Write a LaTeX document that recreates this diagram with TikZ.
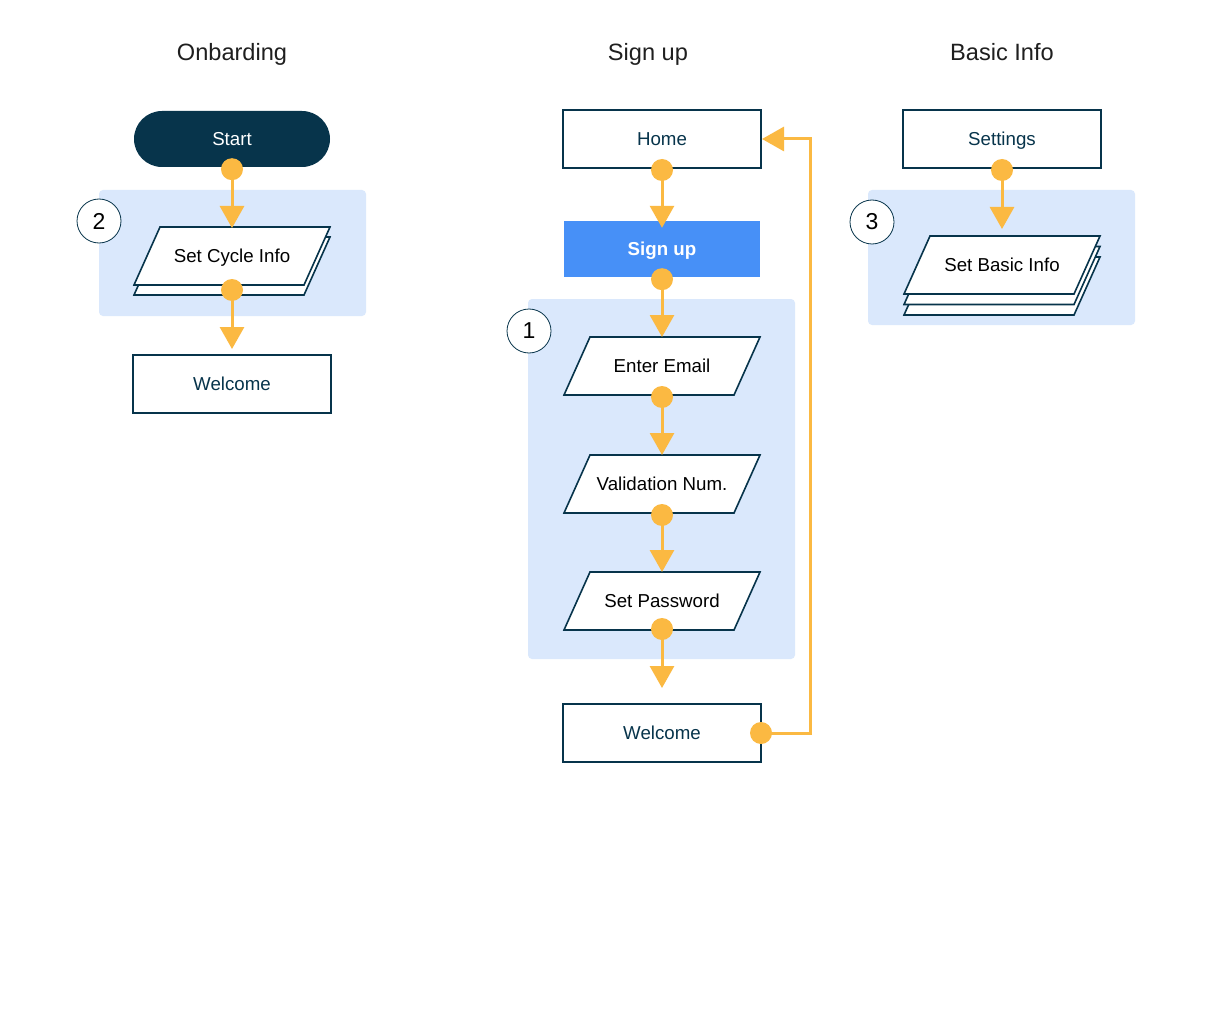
\documentclass[tikz,border=0pt]{standalone}
\usepackage{fontspec}
\setmainfont{Liberation Sans}
\usetikzlibrary{arrows.meta}
\definecolor{navy}{HTML}{07344B}
\definecolor{flowor}{HTML}{FBB942}
\definecolor{panelblue}{HTML}{DAE8FC}
\definecolor{signblue}{HTML}{4790F7}
\pgfdeclarelayer{bglayer}
\pgfdeclarelayer{midlayer}
\pgfsetlayers{bglayer,midlayer,main}
\newcommand\pshape[2]{%
  \draw[navy, line width=1.6pt, fill=white, line join=miter]
    ([shift={(-72,-29+#2)}]#1.center) -- ([shift={(98,-29+#2)}]#1.center) --
    ([shift={(72,29+#2)}]#1.center) -- ([shift={(-98,29+#2)}]#1.center) -- cycle;}
\begin{document}
\begin{tikzpicture}[x=1pt,y=-1pt,
  capc/.style={text height=13.4pt, text depth=0pt},
  title/.style={font=\fontsize{23.6}{27}\selectfont, text=black!88, text height=16.9pt, text depth=0pt},
  rectbox/.style={draw=navy, line width=1.6pt, fill=white, minimum width=198pt, minimum height=58pt,
    inner sep=0pt, outer sep=0pt, text=navy, font=\fontsize{18.7}{22}\selectfont, capc},
  pbox/.style={minimum width=196pt, minimum height=58pt, inner sep=0pt, outer sep=0pt,
    text=black, font=\fontsize{18.7}{22}\selectfont, capc},
  panel/.style={fill=panelblue, rounded corners=4pt},
  num/.style={circle, draw=navy, line width=0.8pt, fill=white, minimum size=44pt, inner sep=0pt,
    font=\fontsize{23}{26}\selectfont, text=black},
  conn/.style={draw=flowor, line width=3pt, -{Triangle[width=24pt,length=22pt]}},
  dotc/.style={fill=flowor}
]
\useasboundingbox (0,0) rectangle (1228,1024);
\begin{pgfonlayer}{bglayer}
\fill[white] (0,0) rectangle (1228,1024);
\fill[panel] (99,190) rectangle (366,316);
\fill[panel] (528,299) rectangle (795,659);
\fill[panel] (868,190) rectangle (1135,325);
\end{pgfonlayer}

% titles
\node[title] (t1) at (232,52) {Onbarding};
\node[title] (t2) at (648,52) {Sign up};
\node[title] (t3) at (1002,52) {Basic Info};

% ---- left column
\node[rounded corners=28pt, fill=navy, minimum width=196pt, minimum height=56pt, inner sep=0pt,
  text=white, font=\fontsize{18.7}{22}\selectfont, capc] (start) at (232,139) {Start};
\node[num] (n2) at (99,221) {2};
\node[pbox] (cyc) at (232,256) {Set Cycle Info};
\begin{pgfonlayer}{midlayer}
\pshape{cyc}{10}
\pshape{cyc}{0}
\end{pgfonlayer}
\node[rectbox] (wel1) at (232,384) {Welcome};

% ---- middle column
\node[rectbox] (home) at (662,139) {Home};
\node[fill=signblue, minimum width=196pt, minimum height=56pt, inner sep=0pt, text=white,
  font=\bfseries\fontsize{18.7}{22}\selectfont, capc] (signup) at (662,249) {Sign up};
\node[num] (n1) at (529,331) {1};
\node[pbox] (email) at (662,366) {Enter Email};
\node[pbox] (valid) at (662,484) {Validation Num.};
\node[pbox] (pass) at (662,601) {Set Password};
\begin{pgfonlayer}{midlayer}
\pshape{email}{0}
\pshape{valid}{0}
\pshape{pass}{0}
\end{pgfonlayer}
\node[rectbox] (wel2) at (662,733) {Welcome};

% ---- right column
\node[rectbox] (settings) at (1002,139) {Settings};
\node[num] (n3) at (872,222) {3};
\node[pbox] (basic) at (1002,265) {Set Basic Info};
\begin{pgfonlayer}{midlayer}
\pshape{basic}{21}
\pshape{basic}{10.5}
\pshape{basic}{0}
\end{pgfonlayer}

% ---- connectors
\draw[conn] (start.south) -- ([shift={(0,1)}]cyc.north);
\fill[dotc] ([shift={(0,2)}]start.south) circle (11);
\draw[conn] ([shift={(0,5)}]cyc.south) -- ([shift={(0,-6)}]wel1.north);
\fill[dotc] ([shift={(0,5)}]cyc.south) circle (11);

\draw[conn] (home.south) -- ([shift={(0,7)}]signup.north);
\fill[dotc] ([shift={(0,2)}]home.south) circle (11);
\draw[conn] (signup.south) -- (email.north);
\fill[dotc] ([shift={(0,2)}]signup.south) circle (11);
\draw[conn] (email.south) -- (valid.north);
\fill[dotc] ([shift={(0,2)}]email.south) circle (11);
\draw[conn] (valid.south) -- (pass.north);
\fill[dotc] ([shift={(0,2)}]valid.south) circle (11);
\draw[conn] (pass.south) -- ([shift={(0,-16)}]wel2.north);
\fill[dotc] ([shift={(0,-1)}]pass.south) circle (11);
\draw[conn] (wel2.east) -- ++(49,0) |- ([shift={(1,0)}]home.east);
\fill[dotc] (wel2.east) circle (11);

\draw[conn] (settings.south) -- ([shift={(0,-7)}]basic.north);
\fill[dotc] ([shift={(0,2)}]settings.south) circle (11);
\end{tikzpicture}
\end{document}
